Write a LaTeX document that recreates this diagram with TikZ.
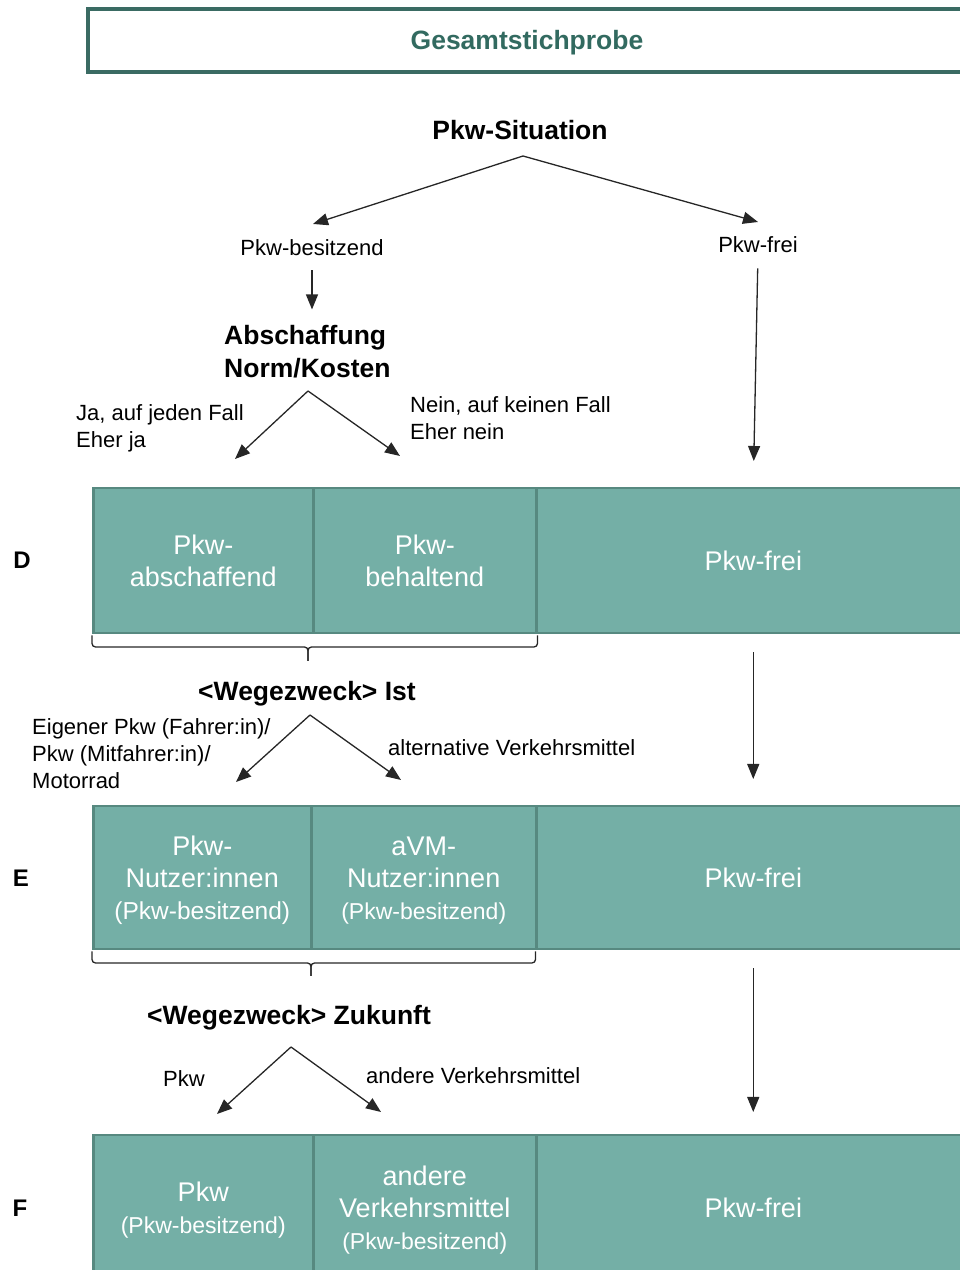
\documentclass[tikz,border=0pt]{standalone}
\usepackage{fontspec}
\setmainfont{Liberation Sans}
\usepackage{xcolor}
\usetikzlibrary{arrows.meta, positioning}
\definecolor{cellfill}{HTML}{74AFA6}
\definecolor{celldraw}{HTML}{578980}
\definecolor{framegreen}{HTML}{3A6B63}
\definecolor{titlegreen}{HTML}{326A60}
\newcommand{\sublbl}[1]{{\fontsize{23}{28}\selectfont #1}}
\tikzset{
  cell/.style={rectangle, draw=celldraw, line width=2.5pt, fill=cellfill,
               text=white, font=\fontsize{27}{32}\selectfont,
               minimum width=#1, minimum height=145pt,
               inner sep=0pt, align=center, anchor=north west},
  cell/.default=220pt,
  frame/.style={rectangle, draw=framegreen, line width=4.5pt,
                text=titlegreen, font=\bfseries\fontsize{26.5}{32}\selectfont,
                minimum width=878pt, minimum height=63pt,
                text height=19pt, text depth=0pt},
  head/.style={font=\bfseries\fontsize{26.5}{33}\selectfont, inner sep=0pt, align=left},
  lbl/.style={font=\fontsize{22}{27}\selectfont, inner sep=0pt, align=left},
  rowlbl/.style={font=\bfseries\fontsize{24}{28}\selectfont, inner sep=0pt},
  arr/.style={-{Triangle[length=15pt,width=12pt]}, line width=1.3pt, black!85},
  brc/.style={line width=1.3pt, black!85, rounded corners=3.5pt},
}

\begin{document}
\begin{tikzpicture}[x=1pt, y=1pt]
  \useasboundingbox (0,0) rectangle (960,1270);
  \clip (0,0) rectangle (960,1270);
  %% Kopf
  \node[frame] (gesamt) at (527,1229.5) {Gesamtstichprobe};
  \node[head] (situation) at (520,1140) {Pkw-Situation};
  \node[lbl] (besitzend) at (312,1022) {Pkw-besitzend};
  \node[lbl] (frei) at (758,1025) {Pkw-frei};
  \coordinate (sitfork) at (523,1114);
  \coordinate (besitzin) at (313,1046);
  \coordinate (freiin) at (758,1048);
  \foreach \b in {besitzin,freiin}
    \draw[arr] (sitfork) -- (\b);
  \node[head, anchor=west] (abschaffung) at (224,918) {Abschaffung\\Norm/Kosten};
  \draw[arr, shorten <=14pt, shorten >=16pt] (besitzend.south) -- (besitzend.south |- abschaffung.north);
  \node[lbl, anchor=west] (ja) at (76,842) {Ja, auf jeden Fall\\Eher ja};
  \node[lbl, anchor=west] (nein) at (410,851.5) {Nein, auf keinen Fall\\Eher nein};
  \coordinate (abschfork) at (308,879);
  \coordinate (jatip) at (235,811);
  \coordinate (neintip) at (400,814);
  \foreach \b in {jatip,neintip}
    \draw[arr] (abschfork) -- (\b);
  %% Zeile D
  \node[rowlbl] (rowD) at (22,710) {D};
  \node[cell] (absD) at (92,783) {Pkw-\\abschaffend};
  \node[cell=223pt] (behD) at (312,783) {Pkw-\\behaltend};
  \node[cell=434pt] (freiD) at (535,783) {Pkw-frei};
  \draw[arr, shorten <=15pt, shorten >=26pt] (frei.south) -- (freiD.north);
  % Klammer unter D
  \coordinate (braceD) at (308,623);
  \draw[brc] ([yshift=-1pt]absD.south west) |- (braceD) -- ++(0,-14);
  \draw[brc] ([yshift=-1pt]behD.south east) |- (braceD) -- ++(0,-14);
  %% Wegezweck Ist
  \node[head] (ist) at (307,576) {<Wegezweck> Ist};
  \node[lbl, anchor=west] (eigener) at (32,516) {Eigener Pkw (Fahrer:in)/\\Pkw (Mitfahrer:in)/\\Motorrad};
  \node[lbl, anchor=west] (alternativ) at (388,522) {alternative Verkehrsmittel};
  \coordinate (istfork) at (310,555);
  \coordinate (isttipL) at (236,488);
  \coordinate (isttipR) at (401,490);
  \foreach \b in {isttipL,isttipR}
    \draw[arr] (istfork) -- (\b);
  %% Zeile E
  \node[rowlbl] (rowE) at (21,392) {E};
  \node[cell=218pt, minimum height=143pt, text depth=-5pt] (pkwE) at (92,465) {Pkw-\\Nutzer:innen\\{\fontsize{24.5}{30}\selectfont(Pkw-besitzend)}};
  \node[cell=225pt, minimum height=143pt, text depth=-5pt] (avmE) at (310,465) {aVM-\\Nutzer:innen\\\sublbl{(Pkw-besitzend)}};
  \node[cell=434pt, minimum height=143pt] (freiE) at (535,465) {Pkw-frei};
  \draw[arr, shorten <=18pt, shorten >=26pt] (freiD.south) -- (freiE.north);
  % Klammer unter E
  \coordinate (braceE) at (311,307);
  \draw[brc] ([yshift=-1pt]pkwE.south west) |- (braceE) -- ++(0,-13);
  \draw[brc] ([yshift=-1pt,xshift=-2pt]avmE.south east) |- (braceE) -- ++(0,-13);
  %% Wegezweck Zukunft
  \node[head] (zukunft) at (289,252) {<Wegezweck> Zukunft};
  \node[lbl] (pkw) at (184,191) {Pkw};
  \node[lbl, anchor=west] (andere) at (366,194) {andere Verkehrsmittel};
  \coordinate (zukfork) at (291,223);
  \coordinate (zuktipL) at (217,156);
  \coordinate (zuktipR) at (381,158);
  \foreach \b in {zuktipL,zuktipR}
    \draw[arr] (zukfork) -- (\b);
  %% Zeile F
  \node[rowlbl] (rowF) at (20,62) {F};
  \node[cell, text depth=-4pt] (pkwF) at (92,136) {Pkw\\\sublbl{(Pkw-besitzend)}};
  \node[cell=223pt, text depth=-4pt] (andF) at (312,136) {andere\\Verkehrsmittel\\\sublbl{(Pkw-besitzend)}};
  \node[cell=434pt] (freiF) at (535,136) {Pkw-frei};
  \draw[arr, shorten <=18pt, shorten >=22pt] (freiE.south) -- (freiF.north);
\end{tikzpicture}
\end{document}
